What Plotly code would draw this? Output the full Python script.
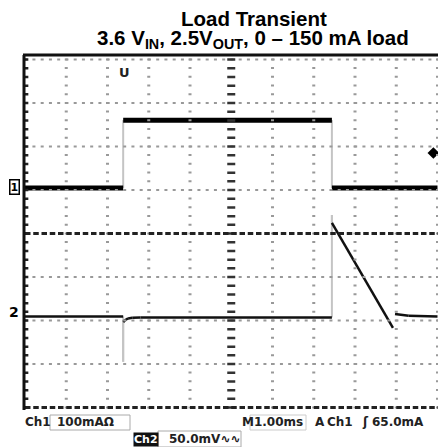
import plotly.graph_objects as go

# ---------------- data (read from the scope capture) ----------------
# time in ms (1 ms/div, centre of screen = 0)
cur_t = [-5.0, -2.62, -2.62, 2.44, 2.44, 5.0]
cur_mA = [0, 0, 156, 156, 0, 0]

vout_t = [-5.0, -2.62, -2.62, -2.62, -2.57, -2.5, -2.4, -2.2, 2.44, 2.44, 2.44, 3.92, None, 3.97, 4.3, 5.0]
vout_mV = [0, 0, -52, -6.3, -4.0, -2.2, -1.5, -1.0, -1.0, 116.7, 107.5, -13.2, None, 2.9, 1.0, 0.0]

ch1_scale = 100.0   # mA/div
ch2_scale = 50.0    # mV/div
ch1_pos = 1.046     # div
ch2_pos = -1.908    # div
trig_level_div = 1.85

title1 = "<b>Load Transient</b>"
title2 = "<b>3.6 V<sub>IN</sub>, 2.5V<sub>OUT</sub>, 0 – 150 mA load</b>"

# ---------------- geometry ----------------
W, H = 438, 447
ML, MR, MT, MB = 23, 0, 54, 36
PW, PH = W - ML - MR, H - MT - MB
XR = [-5.0485, 5.012]
YR = [-4.08, 4.126]


def px(x):
    return (x - ML) / PW


def py(y):
    return (H - MB - y) / PH


fig = go.Figure()
shapes = []
grid_col = "#999999"

# dotted vertical graticule lines (short horizontal marks every 1/5 div)
for k in [-4, -3, -2, -1, 1, 2, 3, 4, 5]:
    shapes.append(dict(type="line", xref="x", yref="y", x0=k, x1=k, y0=-4.02, y1=4.02,
                       line=dict(color=grid_col, width=3, dash="2px,6.7px")))
# dotted horizontal graticule lines
for j in [-3, -2, -1, 1, 2, 3, 4]:
    shapes.append(dict(type="line", xref="x", yref="y", x0=-5.02, x1=5.02, y0=j, y1=j,
                       line=dict(color=grid_col, width=2, dash="3px,5.25px")))
# centre vertical tick marks
shapes.append(dict(type="line", xref="x", yref="y", x0=0, x1=0, y0=-4.03, y1=4.03,
                   line=dict(color="#333", width=8, dash="2.5px,6.2px")))
# centre horizontal dashed line and bottom line
for yy in [0, -4]:
    shapes.append(dict(type="line", xref="x", yref="y", x0=-5.0, x1=5.02, y0=yy, y1=yy,
                       line=dict(color="#222", width=3, dash="5.5px,2.75px")))
# left border ticks
shapes.append(dict(type="line", xref="x", yref="y", x0=-4.98, x1=-4.98, y0=-4.03, y1=4.03,
                   line=dict(color="#222", width=5, dash="2.5px,6.2px")))
# borders
shapes.append(dict(type="line", xref="paper", yref="paper", x0=px(24), x1=px(24),
                   y0=py(55), y1=py(410), line=dict(color="#111", width=3)))
shapes.append(dict(type="line", xref="paper", yref="paper", x0=px(23), x1=px(438),
                   y0=py(55), y1=py(55), line=dict(color="#111", width=3)))
# readout boxes
shapes += [
    dict(type="rect", xref="paper", yref="paper", x0=px(50), x1=px(130),
         y0=py(430), y1=py(415), line=dict(color="#aaa", width=1)),
    dict(type="rect", xref="paper", yref="paper", x0=px(250), x1=px(306),
         y0=py(430), y1=py(415), line=dict(color="#ccc", width=1)),
    dict(type="rect", xref="paper", yref="paper", x0=px(158), x1=px(241),
         y0=py(447), y1=py(431), line=dict(color="#aaa", width=1)),
]


def add_wave(t, v, pos, scale, width_flat, col_flat, edge_col="#c4c4c4"):
    for k in range(len(t) - 1):
        if t[k] is None or t[k + 1] is None:
            continue
        if t[k] == t[k + 1]:
            fig.add_trace(go.Scatter(x=[t[k], t[k + 1]],
                                     y=[pos + v[k] / scale, pos + v[k + 1] / scale],
                                     mode="lines", hoverinfo="skip",
                                     line=dict(color=edge_col, width=2)))
    xs, ys = [], []
    for k in range(len(t) - 1):
        if t[k] is None or t[k + 1] is None or t[k] == t[k + 1]:
            continue
        xs += [t[k], t[k + 1], None]
        ys += [pos + v[k] / scale, pos + v[k + 1] / scale, None]
    fig.add_trace(go.Scatter(x=xs, y=ys, mode="lines", hoverinfo="skip",
                             line=dict(color=col_flat, width=width_flat)))


add_wave(cur_t, cur_mA, ch1_pos, ch1_scale, 5, "#000")
add_wave(vout_t, vout_mV, ch2_pos, ch2_scale, 2.5, "#111")

# trigger level marker
fig.add_trace(go.Scatter(x=[4.9], y=[trig_level_div], mode="markers", hoverinfo="skip",
                         marker=dict(symbol="diamond", size=9, color="#000")))

bf = dict(family="DejaVu Sans", size=12, color="#222")
ann = [
    dict(text=title1, x=px(254), y=py(19), font=dict(family="Liberation Sans", size=20.5, color="#000")),
    dict(text=title2, x=px(253), y=py(39), font=dict(family="Liberation Sans", size=20.5, color="#000")),
    dict(text="<b>Ch1</b>", x=px(23), y=py(422), xanchor="left", font=bf),
    dict(text="<b>100mAΩ</b>", x=px(55), y=py(422), xanchor="left", font=bf),
    dict(text="<b>M1.00ms</b>", x=px(240), y=py(422), xanchor="left", font=bf),
    dict(text="<b>A</b>", x=px(313), y=py(422), xanchor="left", font=bf),
    dict(text="<b>Ch1</b>", x=px(325), y=py(422), xanchor="left", font=bf),
    dict(text="<b>ʃ</b>", x=px(360), y=py(422), xanchor="left", font=bf),
    dict(text="<b>65.0mA</b>", x=px(370), y=py(422), xanchor="left", font=bf),
    dict(text="<b>Ch2</b>", x=px(133), y=py(439), xanchor="left", bgcolor="#111",
         borderpad=0, font=dict(family="DejaVu Sans", size=11, color="#fff")),
    dict(text="<b>50.0mV∿∿</b>", x=px(167), y=py(439), xanchor="left", font=bf),
    dict(text="<b>1</b>", x=px(14), y=py(187), bordercolor="#000", borderwidth=1.5,
         borderpad=0, bgcolor="#fff", font=dict(family="DejaVu Sans", size=11, color="#000")),
    dict(text="<b>2</b>", x=px(14), y=py(312), font=dict(family="DejaVu Sans", size=14, color="#000")),
    dict(text="<b>U</b>", x=px(124), y=py(72), font=dict(family="DejaVu Sans", size=13, color="#222")),
]
for a in ann:
    a.setdefault("xref", "paper")
    a.setdefault("yref", "paper")
    a.setdefault("showarrow", False)
    a.setdefault("xanchor", "center")
    a.setdefault("yanchor", "middle")

fig.update_layout(
    width=W, height=H,
    margin=dict(l=ML, r=MR, t=MT, b=MB, pad=0),
    paper_bgcolor="#fff", plot_bgcolor="#fff",
    showlegend=False,
    xaxis=dict(range=XR, showgrid=False, zeroline=False, showticklabels=False,
               ticks="", showline=False, fixedrange=True),
    yaxis=dict(range=YR, showgrid=False, zeroline=False, showticklabels=False,
               ticks="", showline=False, fixedrange=True),
    shapes=shapes,
    annotations=ann,
)

fig.write_html("out.html", config={"staticPlot": True},
               post_script="document.body.style.margin='0';document.body.style.overflow='hidden';")
